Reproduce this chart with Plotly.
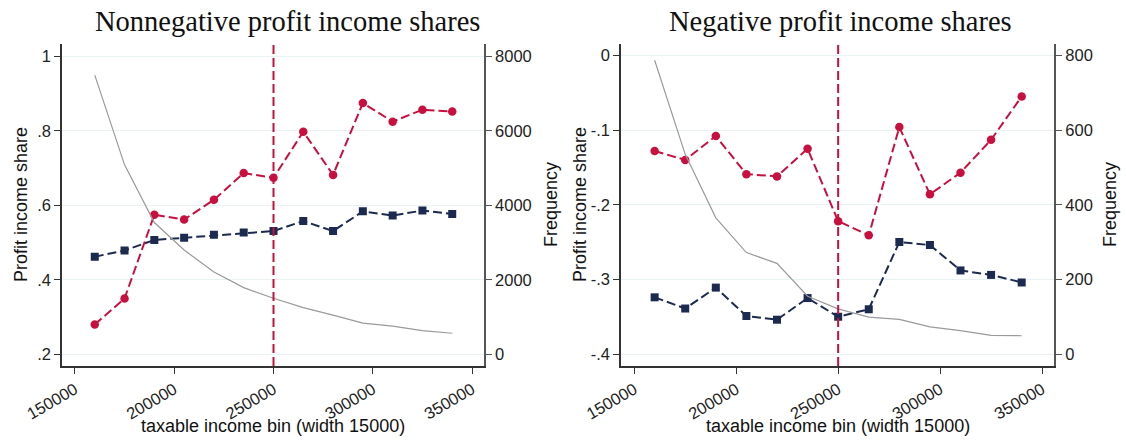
import plotly.graph_objects as go

# ---------------- data ----------------
bins = [160000, 175000, 190000, 205000, 220000, 235000, 250000,
        265000, 280000, 295000, 310000, 325000, 340000]

# Nonnegative profit income shares
pos_red = [0.280, 0.350, 0.575, 0.562, 0.615, 0.687, 0.674,
           0.798, 0.682, 0.875, 0.825, 0.857, 0.852]
pos_navy = [0.462, 0.479, 0.507, 0.513, 0.521, 0.527, 0.531,
            0.558, 0.531, 0.584, 0.573, 0.586, 0.577]
pos_freq = [7500, 5090, 3540, 2800, 2210, 1790, 1505,
            1255, 1050, 835, 755, 635, 565]

# Negative profit income shares
neg_red = [-0.128, -0.140, -0.108, -0.159, -0.162, -0.125, -0.222,
           -0.241, -0.096, -0.186, -0.157, -0.113, -0.055]
neg_navy = [-0.324, -0.339, -0.311, -0.349, -0.354, -0.325, -0.350,
            -0.340, -0.250, -0.254, -0.288, -0.294, -0.304]
neg_freq = [787, 535, 365, 272, 243, 155, 121,
            99, 93, 73, 63, 50, 49]

x_ticks = [150000, 200000, 250000, 300000, 350000]
pos_y_ticks = [0.2, 0.4, 0.6, 0.8, 1.0]
pos_y_text = [".2", ".4", ".6", ".8", "1"]
pos_f_ticks = [0, 2000, 4000, 6000, 8000]
neg_y_ticks = [-0.4, -0.3, -0.2, -0.1, 0.0]
neg_y_text = ["-.4", "-.3", "-.2", "-.1", "0"]
neg_f_ticks = [0, 200, 400, 600, 800]
threshold = 250000

titles = ["Nonnegative profit income shares", "Negative profit income shares"]
x_title = "taxable income bin (width 15000)"
y_title = "Profit income share"
y2_title = "Frequency"

# ---------------- style ----------------
RED = "#c8103e"
NAVY = "#1c2a4f"
GRAY = "#9a9a9a"
GRID = "#e9f1f3"
AX = "#333333"
AX2 = "#555555"
SANS = "Liberation Sans, Arial, sans-serif"
SERIF = "Liberation Serif, Times New Roman, serif"
DASH = "9px,4px"

fig = go.Figure()

def add_panel(xa, ya, ya2, freq, red, navy):
    fig.add_trace(go.Scatter(x=bins, y=freq, xaxis=xa, yaxis=ya2, mode="lines",
                             line=dict(color=GRAY, width=1.2), showlegend=False))
    fig.add_trace(go.Scatter(x=bins, y=navy, xaxis=xa, yaxis=ya, mode="lines+markers",
                             line=dict(color=NAVY, width=2, dash=DASH),
                             marker=dict(symbol="square", size=8, color=NAVY),
                             showlegend=False))
    fig.add_trace(go.Scatter(x=bins, y=red, xaxis=xa, yaxis=ya, mode="lines+markers",
                             line=dict(color=RED, width=2, dash=DASH),
                             marker=dict(symbol="circle", size=8.5, color=RED),
                             showlegend=False))

add_panel("x", "y", "y2", pos_freq, pos_red, pos_navy)
add_panel("x2", "y3", "y4", neg_freq, neg_red, neg_navy)

W, H = 1126, 442
xd1 = [62 / W, 484 / W]
xd2 = [621 / W, 1054.3 / W]
yd = [1 - 366 / H, 1 - 43.5 / H]

TF = dict(family=SANS, size=16.5, color="#222")
xcommon = dict(tickvals=x_ticks, tickangle=-30, ticks="outside", ticklen=6,
               tickcolor=AX, showline=True, linecolor=AX, linewidth=1.5,
               showgrid=False, zeroline=False, range=[143500, 356000],
               tickfont=TF, tickformat="d", automargin=False)
fig.update_layout(
    template="none",
    xaxis=dict(domain=xd1, anchor="y", **xcommon),
    xaxis2=dict(domain=xd2, anchor="y3", **xcommon),
    yaxis=dict(domain=yd, anchor="x", range=[0.1685, 1.035], tickvals=pos_y_ticks,
               ticktext=pos_y_text, ticks="outside", ticklen=6, tickcolor=AX,
               showline=True, linecolor=AX, linewidth=1.5, showgrid=True,
               gridcolor=GRID, gridwidth=1.2, zeroline=False, automargin=False,
               tickfont=TF),
    yaxis2=dict(domain=yd, anchor="x", overlaying="y", side="right",
                range=[-315, 8350], tickvals=pos_f_ticks, ticks="outside", ticklen=6,
                tickcolor=AX2, showline=True, linecolor=AX2, linewidth=1.5,
                showgrid=False, zeroline=False, automargin=False, tickfont=TF),
    yaxis3=dict(domain=yd, anchor="x2", range=[-0.416, 0.016], tickvals=neg_y_ticks,
                ticktext=neg_y_text, ticks="outside", ticklen=6, tickcolor=AX,
                showline=True, linecolor=AX, linewidth=1.5, showgrid=True,
                gridcolor=GRID, gridwidth=1.2, zeroline=False, automargin=False,
                tickfont=TF),
    yaxis4=dict(domain=yd, anchor="x2", overlaying="y3", side="right",
                range=[-32, 832], tickvals=neg_f_ticks, ticks="outside", ticklen=6,
                tickcolor=AX2, showline=True, linecolor=AX2, linewidth=1.5,
                showgrid=False, zeroline=False, automargin=False, tickfont=TF),
    width=W, height=H, margin=dict(l=0, r=0, t=0, b=0, pad=0, autoexpand=False),
    paper_bgcolor="white", plot_bgcolor="white", showlegend=False,
)

for xr in ["x", "x2"]:
    fig.add_shape(type="line", xref=xr, yref=("y domain" if xr == "x" else "y3 domain"),
                  x0=threshold, x1=threshold, y0=0, y1=1,
                  line=dict(color=RED, width=2, dash=DASH))

ann = []
for t, cx in zip(titles, [287.5, 840.5]):
    ann.append(dict(text=t, x=cx / W, y=1 - 21 / H, xref="paper", yref="paper",
                    showarrow=False, font=dict(family=SERIF, size=28.5, color="#111"),
                    xanchor="center", yanchor="middle"))
for cx in [273, 838]:
    ann.append(dict(text=x_title, x=cx / W, y=1 - 426 / H, xref="paper", yref="paper",
                    showarrow=False, font=dict(family=SANS, size=18, color="#111"),
                    xanchor="center", yanchor="middle"))
for cx in [21, 580]:
    ann.append(dict(text=y_title, x=cx / W, y=1 - 205 / H, xref="paper", yref="paper",
                    showarrow=False, textangle=-90,
                    font=dict(family=SANS, size=18, color="#111"),
                    xanchor="center", yanchor="middle"))
for cx in [551, 1110]:
    ann.append(dict(text=y2_title, x=cx / W, y=1 - 205 / H, xref="paper", yref="paper",
                    showarrow=False, textangle=-90,
                    font=dict(family=SANS, size=18, color="#111"),
                    xanchor="center", yanchor="middle"))
fig.update_layout(annotations=ann)

fig.write_html("out.html", config={"displayModeBar": False},
               post_script="document.body.style.margin='0';document.body.style.overflow='hidden';")
